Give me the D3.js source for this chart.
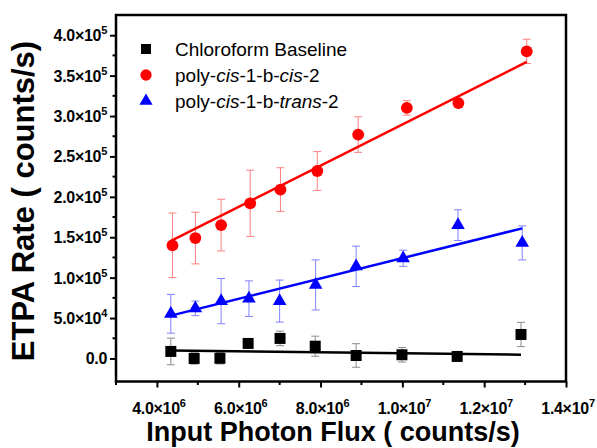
<!DOCTYPE html>
<html>
<head>
<meta charset="utf-8">
<script src="https://cdn.jsdelivr.net/npm/d3@7"></script>
<style>
body { margin: 0; background: #fff; }
text { font-family: "Liberation Sans", Arial, sans-serif; }
</style>
</head>
<body>
<svg id="chart" width="597" height="448"></svg>
<script>
// values
const baseFlux = [4.34e6, 4.91e6, 5.54e6, 6.23e6, 7.01e6, 7.87e6, 8.87e6, 9.99e6, 1.134e7, 1.29e7];
const baseRate = [8700, 0, 200, 18600, 24800, 15200, 3700, 4600, 2500, 29700];
const baseErr = [16500, 7000, 7000, 3000, 9000, 12400, 14600, 9000, 2000, 15000];

const cisFlux = [4.38e6, 4.94e6, 5.57e6, 6.28e6, 7.02e6, 7.92e6, 8.92e6, 1.011e7, 1.137e7, 1.304e7];
const cisRate = [1.40e5, 1.49e5, 1.65e5, 1.92e5, 2.09e5, 2.32e5, 2.77e5, 3.10e5, 3.16e5, 3.80e5];
const cisErr = [40000, 32000, 32000, 41000, 27000, 24000, 22000, 9000, 2000, 15000];

const transFlux = [4.34e6, 4.94e6, 5.57e6, 6.25e6, 7.0e6, 7.88e6, 8.87e6, 1.002e7, 1.136e7, 1.293e7];
const transRate = [55300, 62000, 71000, 74000, 71000, 91000, 114000, 124000, 165000, 143000];
const transErr = [24000, 9000, 28000, 22000, 26000, 31000, 25000, 10000, 19000, 21000];

// linear fit end points (flux, rate)
const baseFit = [[4.34e6, 9900], [1.29e7, 4600]];
const cisFit = [[4.32e6, 1.45e5], [1.304e7, 3.67e5]];
const transFit = [[4.34e6, 53000], [1.293e7, 161000]];

const xTicks = [4e6, 6e6, 8e6, 1e7, 1.2e7, 1.4e7];
const xMinor = [3e6, 5e6, 7e6, 9e6, 1.1e7, 1.3e7];
const yTicks = [0, 5e4, 1e5, 1.5e5, 2e5, 2.5e5, 3e5, 3.5e5, 4e5];
const yMinor = [2.5e4, 7.5e4, 1.25e5, 1.75e5, 2.25e5, 2.75e5, 3.25e5, 3.75e5];

const svg = d3.select("#chart");
const plotL = 116, plotR = 566, plotT = 15, plotB = 381.5;

const x = d3.scaleLinear().domain([3e6, 1.4e7]).range([plotL, plotR]);
const y = d3.scaleLinear().domain([-28500, 4.25e5]).range([plotB, plotT]);

function sciLabel(sel, v) {
  if (v === 0) { sel.text("0.0"); return; }
  let e = Math.floor(Math.log10(v));
  let m = (v / Math.pow(10, e)).toFixed(1);
  sel.text(m + "\u00d710");
  sel.append("tspan").attr("dy", -7).attr("font-size", 11).text(e);
}

// frame
svg.append("rect")
  .attr("x", plotL).attr("y", plotT)
  .attr("width", plotR - plotL).attr("height", plotB - plotT)
  .attr("fill", "none").attr("stroke", "#000").attr("stroke-width", 2.5);

// x axis
let xAxis = svg.append("g").attr("transform", "translate(0," + plotB + ")");
xAxis.call(d3.axisBottom(x).tickValues(xTicks).tickSize(6).tickFormat(""));
xAxis.select(".domain").remove();
xAxis.selectAll(".tick line").attr("stroke-width", 2);
xMinor.forEach(function(v) {
  xAxis.append("line").attr("x1", x(v)).attr("x2", x(v)).attr("y1", 0).attr("y2", 3.5)
    .attr("stroke", "#000").attr("stroke-width", 2);
});
xTicks.forEach(function(v) {
  xAxis.append("text").attr("x", x(v) + 2).attr("y", 32)
    .attr("text-anchor", "middle").attr("font-size", 16).attr("font-weight", "bold")
    .attr("letter-spacing", -0.3).attr("fill", "#000")
    .call(sciLabel, v);
});

// y axis
let yAxis = svg.append("g").attr("transform", "translate(" + plotL + ",0)");
yAxis.call(d3.axisLeft(y).tickValues(yTicks).tickSize(6).tickFormat(""));
yAxis.select(".domain").remove();
yAxis.selectAll(".tick line").attr("stroke-width", 2);
yMinor.forEach(function(v) {
  yAxis.append("line").attr("y1", y(v)).attr("y2", y(v)).attr("x1", 0).attr("x2", -3.5)
    .attr("stroke", "#000").attr("stroke-width", 2);
});
yTicks.forEach(function(v) {
  yAxis.append("text").attr("x", -9).attr("y", y(v) + 6)
    .attr("text-anchor", "end").attr("font-size", 16).attr("font-weight", "bold")
    .attr("letter-spacing", -0.3).attr("fill", "#000")
    .call(sciLabel, v);
});

// axis titles
svg.append("text").attr("x", 333).attr("y", 441)
  .attr("text-anchor", "middle").attr("font-size", 27).attr("font-weight", "bold")
  .text("Input Photon Flux ( counts/s)");
svg.append("text").attr("transform", "translate(34,201) rotate(-90)")
  .attr("text-anchor", "middle").attr("font-size", 31).attr("font-weight", "bold")
  .text("ETPA Rate ( counts/s)");

const series = [
  {flux: baseFlux, rate: baseRate, err: baseErr, fit: baseFit, color: "#000", errColor: "#8c8c8c", shape: d3.symbolSquare, size: 121},
  {flux: transFlux, rate: transRate, err: transErr, fit: transFit, color: "#0000ff", errColor: "#8080ff", shape: d3.symbolTriangle, size: 80},
  {flux: cisFlux, rate: cisRate, err: cisErr, fit: cisFit, color: "#ff0000", errColor: "#ff8080", shape: d3.symbolCircle, size: 110}
];

series.forEach(function(s) {
  let pts = s.flux.map(function(f, i) { return {x: f, y: s.rate[i], e: s.err[i]}; });
  let g = svg.append("g");
  // error bars
  pts.forEach(function(d) {
    let cx = x(d.x);
    g.append("line").attr("x1", cx).attr("x2", cx).attr("y1", y(d.y - d.e)).attr("y2", y(d.y + d.e))
      .attr("stroke", s.errColor).attr("stroke-width", 1);
    [d.y - d.e, d.y + d.e].forEach(function(v) {
      g.append("line").attr("x1", cx - 4).attr("x2", cx + 4).attr("y1", y(v)).attr("y2", y(v))
        .attr("stroke", s.errColor).attr("stroke-width", 1);
    });
  });
  // fit line
  g.append("path")
    .attr("d", d3.line().x(function(d) { return x(d[0]); }).y(function(d) { return y(d[1]); })(s.fit))
    .attr("stroke", s.color).attr("stroke-width", 2.5).attr("fill", "none");
  // markers
  g.selectAll("path.pt").data(pts).enter().append("path")
    .attr("class", "pt")
    .attr("d", d3.symbol().type(s.shape).size(s.size))
    .attr("transform", function(d) { return "translate(" + x(d.x) + "," + y(d.y) + ")"; })
    .attr("fill", s.color);
});

// legend
const legendItems = [
  {shape: d3.symbolSquare, size: 100, color: "#000", parts: [["Chloroform Baseline", false]]},
  {shape: d3.symbolCircle, size: 100, color: "#ff0000", parts: [["poly-", false], ["cis", true], ["-1-b-", false], ["cis", true], ["-2", false]]},
  {shape: d3.symbolTriangle, size: 75, color: "#0000ff", parts: [["poly-", false], ["cis", true], ["-1-b-", false], ["trans", true], ["-2", false]]}
];
legendItems.forEach(function(item, i) {
  let ly = 49 + i * 26;
  svg.append("path").attr("d", d3.symbol().type(item.shape).size(item.size))
    .attr("transform", "translate(146," + ly + ")").attr("fill", item.color);
  let t = svg.append("text").attr("x", 175).attr("y", ly + 7).attr("font-size", 19);
  item.parts.forEach(function(p) {
    t.append("tspan").attr("font-style", p[1] ? "italic" : "normal").text(p[0]);
  });
});
</script>
</body>
</html>
